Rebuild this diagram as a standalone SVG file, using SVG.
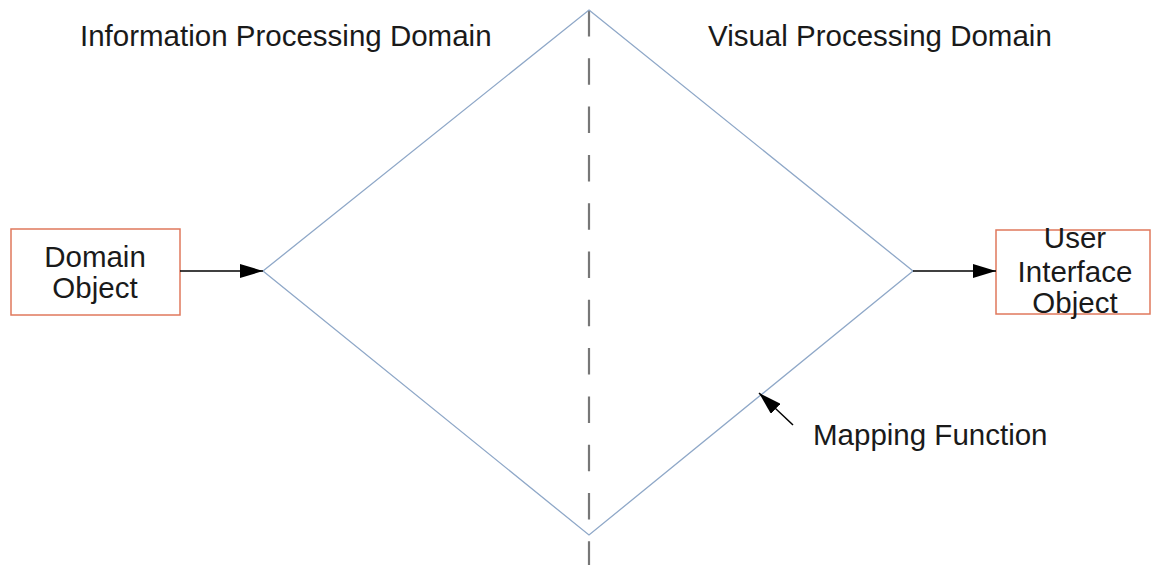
<svg xmlns="http://www.w3.org/2000/svg" width="1159" height="565" viewBox="0 0 1159 565">
<style>
text{font-family:"Liberation Sans",Arial,sans-serif;font-size:29.5px;fill:#1a1a1a}
.box{fill:#fff;stroke:#e0785c;stroke-width:1.5}
.dia{fill:none;stroke:#8fa8c8;stroke-width:1.3}
.arr{stroke:#000;stroke-width:1.5;fill:none}
</style>
<defs>
<marker id="ah" markerUnits="userSpaceOnUse" markerWidth="24" markerHeight="14" refX="23" refY="7" orient="auto">
<path d="M0,0 L23,7 L0,14 Z" fill="#000"/>
</marker>
</defs>
<rect width="1159" height="565" fill="#fff"/>
<g id="divider">
<line x1="589" y1="10" x2="589" y2="565" stroke="#777" stroke-width="2.2" stroke-dasharray="26.5 21.8"/>
</g>
<g id="mapping">
<polygon class="dia" points="589,10 913,271 589,535 263,271"/>
</g>
<g id="labels">
<text x="80" y="46">Information Processing Domain</text>
<text x="708" y="46">Visual Processing Domain</text>
<text x="813" y="445">Mapping Function</text>
</g>
<g id="domain-object">
<rect class="box" x="11" y="229" width="169" height="86"/>
<text x="95" y="267" text-anchor="middle">Domain</text>
<text x="95" y="298" text-anchor="middle">Object</text>
</g>
<g id="ui-object">
<rect class="box" x="996" y="230" width="154" height="84"/>
<text x="1075" y="248" text-anchor="middle">User</text>
<text x="1075" y="282" text-anchor="middle">Interface</text>
<text x="1075" y="313" text-anchor="middle">Object</text>
</g>
<g id="connectors">
<line class="arr" x1="180" y1="271" x2="263" y2="271" marker-end="url(#ah)"/>
<line class="arr" x1="913" y1="271" x2="996" y2="271" marker-end="url(#ah)"/>
<line class="arr" x1="793" y1="425" x2="759" y2="393" marker-end="url(#ah)"/>
</g>
</svg>
